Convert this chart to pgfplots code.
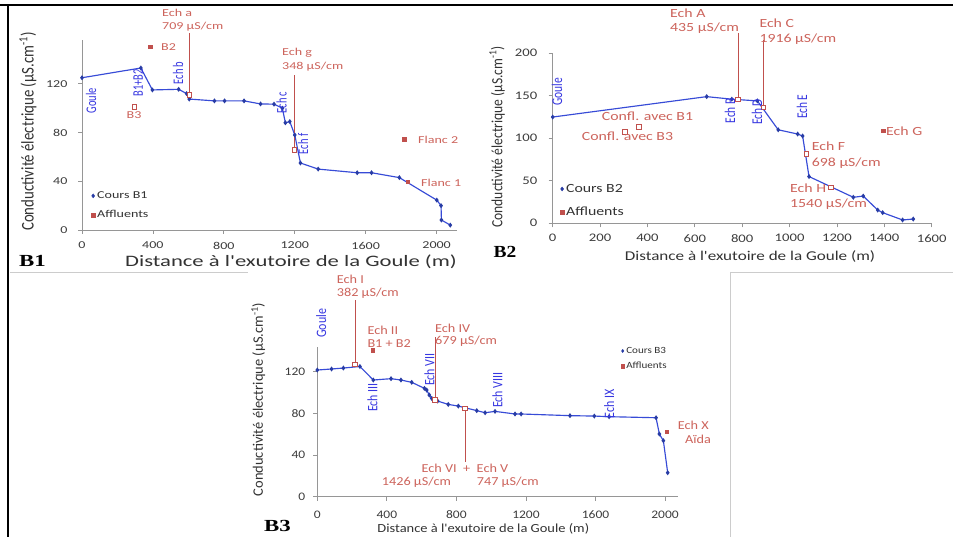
\documentclass[border=0pt]{standalone}
\usepackage{pgfplots}
\pgfplotsset{compat=1.18}
\usepackage{fontspec}
\setmainfont{Carlito}
\newfontfamily\fA[FakeStretch=1.33]{Carlito}
\newfontfamily\fAx[FakeStretch=1.42]{Carlito}
\newfontfamily\fB[FakeStretch=1.27]{Carlito}
\newfontfamily\fC[FakeStretch=1.17]{Carlito}
\newfontfamily\fSa[FakeStretch=1.35]{Liberation Serif}
\newfontfamily\fSb[FakeStretch=1.15]{Liberation Serif}
\newcommand\FS[1]{\fontsize{#1}{#1}\selectfont}
\newcommand\VS[2]{\scalebox{1}[#1]{#2}}
\definecolor{lineblue}{RGB}{55,75,215}
\definecolor{markblue}{RGB}{40,60,165}
\definecolor{exred}{RGB}{192,80,77}
\definecolor{txtred}{RGB}{205,100,92}
\definecolor{txtblue}{RGB}{55,55,225}
\definecolor{axgray}{RGB}{150,150,150}
\definecolor{tickgray}{RGB}{60,60,60}
\pgfplotsset{
  exstyle/.style={
    scale only axis, anchor=south west, clip=false,
    axis lines*=left,
    axis line style={axgray, line width=0.8bp},
    tick style={axgray, line width=0.8bp},
    tick align=outside, major tick length=4bp,
    /pgf/number format/assume math mode=true,
    /pgf/number format/1000 sep={},
    ticklabel style={text=tickgray},
    legend cell align=left,
    legend style={draw=none, fill=none, inner sep=0pt, row sep=3bp, text=black!80},
    legend image code/.code={\draw[##1] plot coordinates {(0bp,0bp)};},
  },
  serie/.style={lineblue, line width=1.15bp, mark=diamond*, mark size=1.6bp, mark options={markblue, fill=markblue}},
  aff/.style={only marks, mark=square*, mark size=1.8bp, exred, mark options={fill=exred}},
  affo/.style={only marks, mark=square*, mark size=2.2bp, exred, mark options={fill=white, line width=0.8bp}},
  callout/.style={exred, line width=1bp, no marks},
}
\begin{document}
\begin{tikzpicture}[x=1bp,y=1bp]
\useasboundingbox (0,0) rectangle (953,537);
\fill[white] (0,0) rectangle (953,537);
\draw[black, line width=2.5bp] (0,532) -- (953,532);
\draw[black, line width=2bp] (7.5,0) -- (7.5,533);
\draw[black!20, line width=0.8bp] (10,265) -- (248,265);
\draw[black!20, line width=0.8bp] (730,265) -- (953,265);
\draw[black!20, line width=0.8bp] (730,265) -- (730,0);

% ---------------- B1 ----------------
\begin{axis}[exstyle, at={(82bp,307bp)}, width=375bp, height=190bp,
  xmin=0, xmax=2115, ymin=0, ymax=156,
  xtick={0,400,...,2000}, ytick={0,40,80,120},
  ticklabel style={font=\fA\FS{10.6}},
  yticklabel style={xshift=-7bp},
  xticklabel style={yshift=-4.5bp},
  legend style={at={(axis description cs:0.024,0.129)}, anchor=west, font=\fA\FS{10.6}, row sep=6.5bp},
]
\addlegendimage{only marks, mark=diamond*, mark size=2bp, markblue}
\addlegendentry{Cours B1}
\addlegendimage{only marks, mark=square*, mark size=2bp, exred}
\addlegendentry{Affluents}
\addplot[serie, forget plot] table {
x y
0 125
332 133
397 115
545 115.5
590 112
605 107.5
747 106
804 106
914 106
1007 103.5
1083 103.3
1130 100
1147 88
1172 89
1200 78
1232 55
1332 50
1552 47
1633 47
1790 43
2001 24.5
2025 20
2027 8.2
2077 4
};
\addplot[aff, forget plot] table {
x y
383 150.6
1818 74.5
1838 39.6
};
\addplot[affo, forget plot] table {
x y
295 101
605 111
1198 65.8
};
\addplot[callout, forget plot] coordinates {(605,111) (605,162)};
\addplot[callout, forget plot] coordinates {(1198,66) (1198,127.4)};
\end{axis}

% ---------------- B2 ----------------
\begin{axis}[exstyle, at={(552.7bp,313.7bp)}, width=379bp, height=170bp,
  xmin=0, xmax=1600, ymin=0, ymax=200,
  xtick={0,200,...,1600}, ytick={0,50,...,200},
  ticklabel style={font=\fB\FS{11.6}},
  yticklabel style={xshift=-8bp},
  xticklabel style={yshift=-3.5bp},
  legend style={at={(axis description cs:0.019,0.134)}, anchor=west, font=\fB\FS{12.5}, row sep=9bp},
]
\addlegendimage{only marks, mark=diamond*, mark size=2bp, markblue}
\addlegendentry{Cours B2}
\addlegendimage{only marks, mark=square*, mark size=2bp, exred}
\addlegendentry{Affluents}
\addplot[serie, forget plot] table {
x y
0 125
650 149
756 146
864 144
952 110
1034 105
1055 102.7
1082 55
1269 30.6
1311 32
1372 15.6
1393 12.5
1477 3.9
1522 5
};
\addplot[aff, forget plot] table {
x y
1394 109
};
\addplot[affo, forget plot] table {
x y
305 107.4
364 113.6
781 146
889 136
1072 81.5
1175 42.4
};
\addplot[callout, forget plot] coordinates {(783,146) (783,224)};
\addplot[callout, forget plot] coordinates {(891,136) (891,215.6)};
\end{axis}

% ---------------- B3 ----------------
\begin{axis}[exstyle, at={(317.3bp,40.3bp)}, width=361bp, height=150bp,
  xmin=0, xmax=2076, ymin=0, ymax=144,
  xtick={0,400,...,2000}, ytick={0,40,80,120},
  ticklabel style={font=\fC\FS{11.6}},
  yticklabel style={xshift=-4.5bp},
  xticklabel style={yshift=-6.5bp},
  legend style={at={(axis description cs:0.841,0.92)}, anchor=west, font=\fC\FS{9.5}, row sep=3.5bp},
]
\addlegendimage{only marks, mark=diamond*, mark size=1.6bp, markblue}
\addlegendentry{Cours B3}
\addlegendimage{only marks, mark=square*, mark size=1.6bp, exred}
\addlegendentry{Affluents}
\addplot[serie, forget plot] table {
x y
0 121.6
82 122.6
150 123.5
245 125
322 112
424 113.3
481 112
543 109.8
616 104
629 102.4
644 97.6
658 94.4
675 92.8
692 91.8
753 88.6
811 87
917 82.6
965 80.6
1022 81.9
1137 79.4
1172 79.4
1453 77.8
1593 77.4
1678 76.8
1948 75.8
1967 60.2
1990 53.8
2015 23
};
\addplot[aff, forget plot] table {
x y
318 140.8
2009 62.4
};
\addplot[affo, forget plot] table {
x y
217 127
676 93
848 85
};
\addplot[callout, forget plot] coordinates {(217,127) (217,188.8)};
\addplot[callout, forget plot] coordinates {(679,93) (679,153.6)};
\addplot[callout, forget plot] coordinates {(850,85) (850,33.6)};
\end{axis}

% ---------- B1 texts ----------
\begin{scope}[every node/.style={text=txtred, font=\fA\FS{10.6}, inner sep=0pt}]
\node[anchor=west] at (162,524) {Ech a};
\node[anchor=west] at (162,510) {709 µS/cm};
\node[anchor=west] at (282,484) {Ech g};
\node[anchor=west] at (282,470) {348 µS/cm};
\node[anchor=west] at (161,490) {B2};
\node at (134,422) {B3};
\node[anchor=west] at (418,397) {Flanc 2};
\node[anchor=west] at (421,354) {Flanc 1};
\end{scope}
\begin{scope}[every node/.style={text=txtblue, font=\FS{10.5}, inner sep=0pt, rotate=90}]
\node at (91,436) {\VS{1.4}{Goule}};
\node at (138,454) {\VS{1.4}{B1+B2}};
\node at (178,464) {\VS{1.4}{Ech b}};
\node at (281.7,434.5) {\VS{1.4}{Ech c}};
\node at (303,393) {\VS{1.4}{Ech f}};
\end{scope}
\node[font=\fAx\FS{16}, text=black!80] at (291,275) {Distance à l'exutoire de la Goule (m)};
\node[rotate=90, font=\FS{14.9}, text=black!80] at (28,405.5) {\VS{1.2}{Conductivité électrique (µS.cm\textsuperscript{-1})}};
\node[font=\fSa\bfseries\FS{17}] at (32.5,276) {B1};

% ---------- B2 texts ----------
\begin{scope}[every node/.style={text=txtred, font=\fB\FS{12.5}, inner sep=0pt}]
\node[anchor=west] at (670,523.7) {Ech A};
\node[anchor=west] at (670,508.7) {435 µS/cm};
\node[anchor=west] at (759.3,513.7) {Ech C};
\node[anchor=west] at (759.3,497.7) {1916 µS/cm};
\node[anchor=west] at (601.7,420.3) {Confl. avec B1};
\node[anchor=west] at (581.7,400.3) {Confl. avec B3};
\node[anchor=west] at (886,405.3) {Ech G};
\node[anchor=west] at (811.7,390.3) {Ech F};
\node[anchor=west] at (811.7,373.7) {698 µS/cm};
\node[anchor=west] at (790,348.7) {Ech H};
\node[anchor=west] at (790,333) {1540 µS/cm};
\end{scope}
\begin{scope}[every node/.style={text=txtblue, font=\FS{11.5}, inner sep=0pt, rotate=90}]
\node at (557,445.3) {\VS{1.3}{Goule}};
\node at (730,426.2) {\VS{1.3}{Ech B}};
\node at (757,425) {\VS{1.3}{Ech D}};
\node at (802,430.3) {\VS{1.3}{Ech E}};
\end{scope}
\node[font=\fB\FS{13.5}, text=black!80] at (750,280) {Distance à l'exutoire de la Goule (m)};
\node[rotate=90, font=\FS{13.6}, text=black!80] at (497,400) {\VS{1.15}{Conductivité électrique (µS.cm\textsuperscript{-1})}};
\node[font=\fSb\bfseries\FS{17}] at (505,285.5) {B2};

% ---------- B3 texts ----------
\begin{scope}[every node/.style={text=txtred, font=\fC\FS{12.2}, inner sep=0pt}]
\node[anchor=west] at (336.7,257.5) {Ech I};
\node[anchor=west] at (336.7,243.5) {382 µS/cm};
\node[anchor=west] at (367.3,206.5) {Ech II};
\node[anchor=west] at (367.3,193.8) {B1 + B2};
\node[anchor=west] at (435,208.2) {Ech IV};
\node[anchor=west] at (435,195.5) {679 µS/cm};
\node at (465,68.5) {Ech VI\ \ +\ \ Ech V};
\node[anchor=west] at (381.7,54.7) {1426 µS/cm};
\node[anchor=west] at (476.7,54.7) {747 µS/cm};
\node at (693.3,111.5) {Ech X};
\node at (698,97.7) {Aïda};
\end{scope}
\begin{scope}[every node/.style={text=txtblue, font=\FS{12}, inner sep=0pt, rotate=90}]
\node at (321.2,213.7) {\VS{1.2}{Goule}};
\node at (372.5,139.5) {\VS{1.2}{Ech III}};
\node at (429.5,167.5) {\VS{1.2}{Ech VII}};
\node at (497.5,147) {\VS{1.2}{Ech VIII}};
\node at (609.3,133) {\VS{1.2}{Ech IX}};
\end{scope}
\node[font=\fC\FS{12.4}, text=black!80] at (483.3,8.5) {Distance à l'exutoire de la Goule (m)};
\node[rotate=90, font=\FS{14.5}, text=black!80] at (258.3,137.5) {Conductivité électrique (µS.cm\textsuperscript{-1})};
\node[font=\fSa\bfseries\FS{17}] at (277.5,11) {B3};
\end{tikzpicture}
\end{document}
